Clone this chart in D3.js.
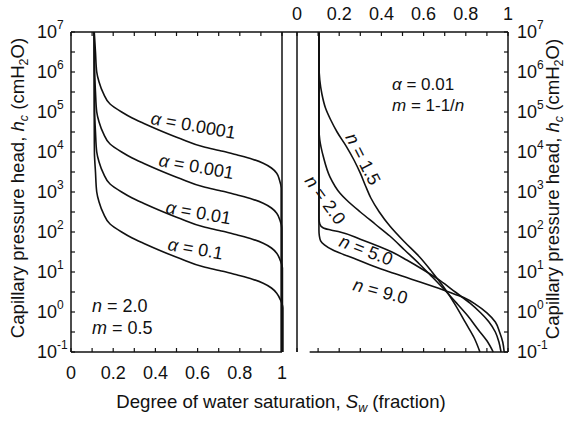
<!DOCTYPE html>
<html>
<head>
<meta charset="utf-8">
<script src="https://cdn.jsdelivr.net/npm/d3@7"></script>
<style>
  html, body { margin: 0; padding: 0; background: #fff; }
  svg { display: block; font-family: "Liberation Sans", Arial, sans-serif; }
</style>
</head>
<body>
<svg id="chart" width="565" height="422"></svg>
<script>
// Each curve: [degree of water saturation S_w, log10 of capillary head h_c (cmH2O)]

// Left panel: n = 2.0, m = 0.5, varying alpha
const curveAlpha0001 = [[0.110,7.0],[0.116,6.5],[0.122,6.0],[0.133,5.75],[0.153,5.47],[0.185,5.2],[0.240,5.0],[0.290,4.85],[0.343,4.72],[0.430,4.52],[0.520,4.33],[0.627,4.13],[0.720,4.02],[0.785,3.93],[0.860,3.82],[0.911,3.72],[0.950,3.60],[0.975,3.47],[0.988,3.30],[0.996,3.10],[0.996,-1.0]];
const curveAlpha001  = [[0.110,7.0],[0.112,6.0],[0.116,5.5],[0.122,5.0],[0.133,4.75],[0.153,4.47],[0.185,4.2],[0.240,4.0],[0.290,3.85],[0.343,3.72],[0.430,3.52],[0.520,3.33],[0.627,3.13],[0.720,3.02],[0.785,2.93],[0.860,2.82],[0.911,2.72],[0.950,2.60],[0.975,2.47],[0.990,2.30],[0.999,2.10],[0.999,-1.0]];
const curveAlpha01   = [[0.110,7.0],[0.1105,6.0],[0.112,5.0],[0.116,4.5],[0.122,4.0],[0.133,3.75],[0.153,3.47],[0.185,3.2],[0.240,3.0],[0.290,2.85],[0.343,2.72],[0.430,2.52],[0.520,2.33],[0.627,2.13],[0.720,2.02],[0.785,1.93],[0.860,1.82],[0.911,1.72],[0.950,1.60],[0.975,1.47],[0.991,1.30],[1.002,1.10],[1.002,-1.0]];
const curveAlpha1    = [[0.110,7.0],[0.110,5.0],[0.111,4.0],[0.116,3.5],[0.122,3.0],[0.133,2.75],[0.153,2.47],[0.185,2.2],[0.240,2.0],[0.290,1.85],[0.343,1.72],[0.430,1.52],[0.520,1.33],[0.627,1.13],[0.720,1.02],[0.785,0.93],[0.860,0.82],[0.911,0.72],[0.950,0.60],[0.975,0.47],[0.993,0.30],[1.004,0.10],[1.004,-1.0]];

// Right panel: alpha = 0.01, m = 1 - 1/n, varying n
const curveN15 = [[0.104,7],[0.104,6.2],[0.108,5.8],[0.118,5.45],[0.135,5.1],[0.16,4.8],[0.19,4.5],[0.235,4.13],[0.27,3.8],[0.30,3.47],[0.325,3.15],[0.35,2.85],[0.39,2.5],[0.44,2.15],[0.51,1.75],[0.58,1.38],[0.64,1.0],[0.694,0.63],[0.75,0.18],[0.80,-0.28],[0.84,-0.65],[0.867,-1]];
const curveN20 = [[0.104,7],[0.104,4.6],[0.108,4.3],[0.125,3.88],[0.156,3.38],[0.204,2.97],[0.235,2.8],[0.30,2.5],[0.37,2.2],[0.44,1.9],[0.51,1.55],[0.58,1.2],[0.64,0.88],[0.70,0.55],[0.76,0.2],[0.81,-0.1],[0.86,-0.45],[0.90,-0.72],[0.93,-1]];
const curveN50 = [[0.104,7],[0.104,2.35],[0.108,2.2],[0.125,2.1],[0.16,2.05],[0.204,2.0],[0.30,1.82],[0.45,1.5],[0.52,1.3],[0.60,1.05],[0.68,0.78],[0.75,0.5],[0.82,0.22],[0.87,-0.02],[0.91,-0.25],[0.94,-0.5],[0.957,-0.75],[0.967,-1]];
const curveN90 = [[0.104,7],[0.104,2.05],[0.106,1.9],[0.112,1.78],[0.13,1.68],[0.17,1.55],[0.22,1.44],[0.28,1.32],[0.36,1.15],[0.44,1.0],[0.52,0.86],[0.583,0.75],[0.65,0.63],[0.72,0.5],[0.79,0.36],[0.85,0.18],[0.90,-0.02],[0.94,-0.25],[0.96,-0.5],[0.975,-0.75],[0.982,-1]];

// Axis ticks
const satTicks = [0, 0.2, 0.4, 0.6, 0.8, 1];
const satTickLabels = ["0", "0.2", "0.4", "0.6", "0.8", "1"];
const headExponents = [-1, 0, 1, 2, 3, 4, 5, 6, 7];

const svg = d3.select("#chart");
const xL = d3.scaleLinear().domain([0, 1]).range([71, 282]);
const xR = d3.scaleLinear().domain([0, 1]).range([297, 508]);
const y = d3.scaleLog().domain([1e-1, 1e7]).range([352, 32]);
const yTop = y.range()[1], yBot = y.range()[0];

const ink = "#111";
const tickLen = 4;

// minor ticks every 0.1 in saturation, every half decade in head
const satMinor = d3.range(0, 11).map(i => i / 10);
const headMinor = d3.range(-2, 15).map(i => Math.pow(10, i / 2));

function drawPanelTicks(x, sides) {
  const g = svg.append("g").attr("stroke", ink).attr("stroke-width", 1.2);
  satMinor.forEach(s => {
    if (sides.top) g.append("line").attr("x1", x(s)).attr("x2", x(s)).attr("y1", yTop).attr("y2", yTop + tickLen);
    if (sides.bottom) g.append("line").attr("x1", x(s)).attr("x2", x(s)).attr("y1", yBot).attr("y2", yBot - tickLen);
  });
  headMinor.forEach(h => {
    if (sides.left) g.append("line").attr("x1", x(0)).attr("x2", x(0) + tickLen).attr("y1", y(h)).attr("y2", y(h));
    if (sides.right) g.append("line").attr("x1", x(1)).attr("x2", x(1) - tickLen).attr("y1", y(h)).attr("y2", y(h));
  });
}
drawPanelTicks(xL, { top: true, bottom: true, left: true });
drawPanelTicks(xR, { top: true, bottom: true, right: true });

// panel frames
const frame = svg.append("g").attr("stroke", ink).attr("stroke-width", 1.5).attr("fill", "none");
frame.append("line").attr("x1", xL(0)).attr("x2", xR(1)).attr("y1", yTop).attr("y2", yTop);
frame.append("line").attr("x1", xL(0)).attr("x2", xL(0)).attr("y1", yTop).attr("y2", yBot);
frame.append("line").attr("x1", xL(0)).attr("x2", xL(1)).attr("y1", yBot).attr("y2", yBot);
frame.append("line").attr("x1", xL(1)).attr("x2", xL(1)).attr("y1", yTop).attr("y2", yBot);
frame.append("line").attr("x1", xR(0)).attr("x2", xR(0)).attr("y1", yTop).attr("y2", yBot);
frame.append("line").attr("x1", xR(0.06)).attr("x2", xR(1)).attr("y1", yBot).attr("y2", yBot);
frame.append("line").attr("x1", xR(1)).attr("x2", xR(1)).attr("y1", yTop).attr("y2", yBot);

// curves
function drawCurves(x, list) {
  const line = d3.line()
    .x(d => x(d[0]))
    .y(d => y(Math.pow(10, d[1])))
    .curve(d3.curveMonotoneY);
  svg.append("g").selectAll("path").data(list).join("path")
    .attr("d", line)
    .attr("fill", "none")
    .attr("stroke", ink)
    .attr("stroke-width", 1.6)
    .attr("stroke-linejoin", "round");
}
drawCurves(xL, [curveAlpha0001, curveAlpha001, curveAlpha01, curveAlpha1]);
drawCurves(xR, [curveN15, curveN20, curveN50, curveN90]);

// tick labels
const fs = 18;
const titleFs = 18.6;
const tl = svg.append("g").attr("fill", ink).attr("font-size", fs);
satTicks.forEach((s, i) => {
  tl.append("text").attr("x", xL(s)).attr("y", 379).attr("text-anchor", "middle").text(satTickLabels[i]);
  tl.append("text").attr("x", xR(s)).attr("y", 20).attr("text-anchor", "middle").text(satTickLabels[i]);
});
function powerLabel(xpos, e) {
  const t = tl.append("text").attr("x", xpos).attr("y", y(Math.pow(10, e)) + 6);
  t.append("tspan").text("10");
  t.append("tspan").attr("font-size", 12).attr("dy", -9).text(e < 0 ? "-" + (-e) : String(e));
}
headExponents.forEach(e => {
  powerLabel(37, e);
  powerLabel(517, e);
});

// rich text helper: segments {t, i (italic), sub}
function richText(g, segs) {
  let shifted = false;
  segs.forEach(s => {
    const ts = g.append("tspan").text(s.t);
    if (s.i) ts.attr("font-style", "italic");
    if (s.sub && !shifted) { ts.attr("dy", 4).attr("font-size", 12.5); shifted = true; }
    else if (s.sub) { ts.attr("font-size", 12.5); }
    else if (shifted) { ts.attr("dy", -4); shifted = false; }
  });
}

const yTitle = [
  { t: "Capillary pressure head, " }, { t: "h", i: true }, { t: "c", i: true, sub: true },
  { t: " (cmH" }, { t: "2", sub: true }, { t: "O)" }
];
richText(svg.append("text").attr("font-size", titleFs).attr("fill", ink).attr("text-anchor", "middle")
  .attr("transform", "translate(24,188) rotate(-90)"), yTitle);
richText(svg.append("text").attr("font-size", titleFs).attr("fill", ink).attr("text-anchor", "middle")
  .attr("transform", "translate(559,189) rotate(-90)"), yTitle);

richText(svg.append("text").attr("font-size", titleFs).attr("fill", ink).attr("text-anchor", "middle")
  .attr("x", 281).attr("y", 408),
  [{ t: "Degree of water saturation, " }, { t: "S", i: true }, { t: "w", i: true, sub: true }, { t: " (fraction)" }]);

// curve and parameter annotations
const notes = [
  { x: 150, y: 124, r: 10, f: 18, segs: [{ t: "α", i: true }, { t: " = 0.0001" }] },
  { x: 158, y: 166, r: 10, f: 18, segs: [{ t: "α", i: true }, { t: " = 0.001" }] },
  { x: 165, y: 213, r: 10, f: 18, segs: [{ t: "α", i: true }, { t: " = 0.01" }] },
  { x: 167, y: 250, r: 10, f: 18, segs: [{ t: "α", i: true }, { t: " = 0.1" }] },
  { x: 92, y: 312, r: 0, f: 18, segs: [{ t: "n", i: true }, { t: " = 2.0" }] },
  { x: 92, y: 334, r: 0, f: 18, segs: [{ t: "m", i: true }, { t: " = 0.5" }] },
  { x: 392, y: 90, r: 0, f: 17, segs: [{ t: "α", i: true }, { t: " = 0.01" }] },
  { x: 392, y: 111, r: 0, f: 17, segs: [{ t: "m", i: true }, { t: " = 1-1/" }, { t: "n", i: true }] },
  { x: 345, y: 137, r: 63, f: 18, segs: [{ t: "n", i: true }, { t: " = 1.5" }] },
  { x: 304, y: 181, r: 54, f: 18, segs: [{ t: "n", i: true }, { t: " = 2.0" }] },
  { x: 338, y: 246, r: 21, f: 18, segs: [{ t: "n", i: true }, { t: " = 5.0" }] },
  { x: 352, y: 290, r: 15, f: 18, segs: [{ t: "n", i: true }, { t: " = 9.0" }] }
];
notes.forEach(n => {
  const t = svg.append("text").attr("font-size", n.f).attr("fill", ink)
    .attr("transform", `translate(${n.x},${n.y}) rotate(${n.r})`);
  richText(t, n.segs);
});
</script>
</body>
</html>
